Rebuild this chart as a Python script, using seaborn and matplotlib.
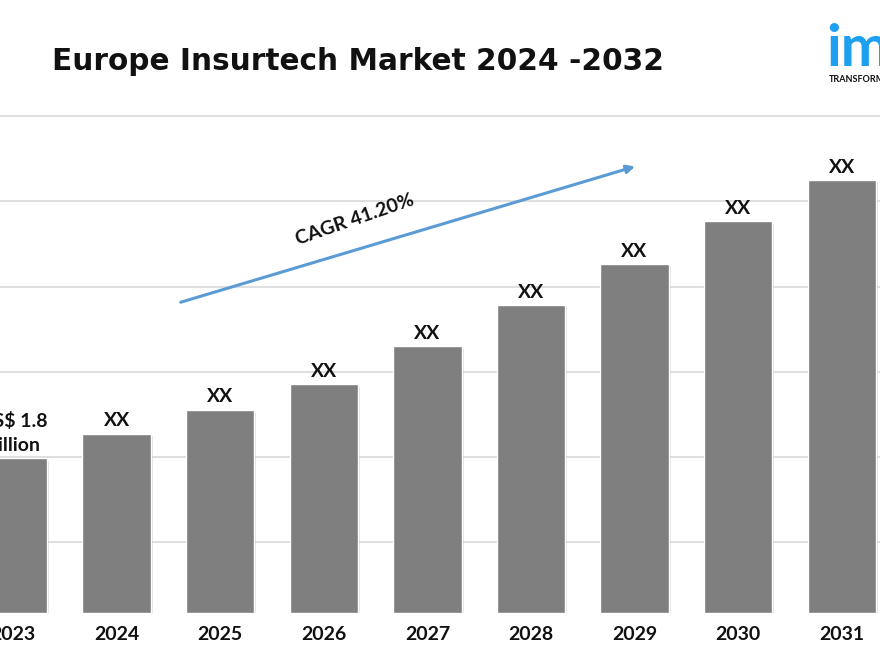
import numpy as np
import pandas as pd
import matplotlib.pyplot as plt
import matplotlib.patheffects as pe
import seaborn as sns

# values (US$ billion, 2023 given, others estimated)
years = ["2023", "2024", "2025", "2026", "2027", "2028", "2029", "2030", "2031"]
values = [1.8, 2.09, 2.37, 2.67, 3.11, 3.59, 4.06, 4.56, 5.04]
labels = ["US$ 1.8\nBillion", "XX", "XX", "XX", "XX", "XX", "XX", "XX", "XX"]
grid_levels = [0.824, 1.817, 2.81, 3.80, 4.80, 5.79]

df = pd.DataFrame({"Year": years, "Value": values})

sns.set_theme(style="white")
plt.rcParams["font.family"] = ["Lato", "DejaVu Sans"]

fig = plt.figure(figsize=(8.8, 6.6), dpi=100)
ax = fig.add_axes([0, (660 - 613) / 660, 1, 498 / 660])

sns.barplot(data=df, x="Year", y="Value", color="#7f7f7f", saturation=1,
            width=0.66, ax=ax, zorder=3)
for bar in ax.patches:
    bar.set_path_effects([pe.SimplePatchShadow(offset=(1.5, -1.5), shadow_rgbFace="#aaaaaa", alpha=0.35),
                          pe.Normal()])

ax.set_xlim(-0.1255, 8.369)
ax.set_ylim(0, 5.80)
ax.set_yticks(grid_levels)
ax.yaxis.grid(True, color="#d9d9d9", linewidth=1.2, zorder=0)
ax.set_yticklabels([])
ax.tick_params(axis="y", length=0)
ax.tick_params(axis="x", length=0, pad=9, labelsize=14)
for t in ax.get_xticklabels():
    t.set_fontweight("bold")
    t.set_color("#111111")
ax.set_xlabel("")
ax.set_ylabel("")
sns.despine(ax=ax, left=True, bottom=True, top=True, right=True)

# value labels
for i, (v, lab) in enumerate(zip(values, labels)):
    ax.annotate(lab, (i, v), xytext=(0, 3), textcoords="offset points",
                ha="center", va="bottom", fontsize=14, fontweight="bold",
                color="#111111", linespacing=1.5)

# CAGR arrow
ax.annotate("", xy=(6.03, 5.21), xytext=(1.593, 3.61),
            arrowprops=dict(arrowstyle="-|>", color="#5b9bd5", lw=2.2,
                            mutation_scale=12), zorder=5)
ax.text(3.30, 4.58, "CAGR 41.20%", rotation=19, ha="center", va="center",
        fontsize=14, fontweight="bold", color="#111111")

# title
fig.text(52 / 880, 1 - 62 / 660, "Europe Insurtech Market 2024 -2032",
         fontsize=21.3, fontweight="bold", color="#111111", va="center",
         family="DejaVu Sans")

# logo (cut off at the right edge)
fig.text(826 / 880, 1 - 66 / 660, "imarc", fontsize=42, fontweight="bold",
         color="#1ea0f0", va="baseline")
fig.text(829 / 880, 1 - 79 / 660, "TRANSFORMING", fontsize=6.5, fontweight="bold",
         color="#111111", va="center")

fig.savefig("out.png", dpi=100)
